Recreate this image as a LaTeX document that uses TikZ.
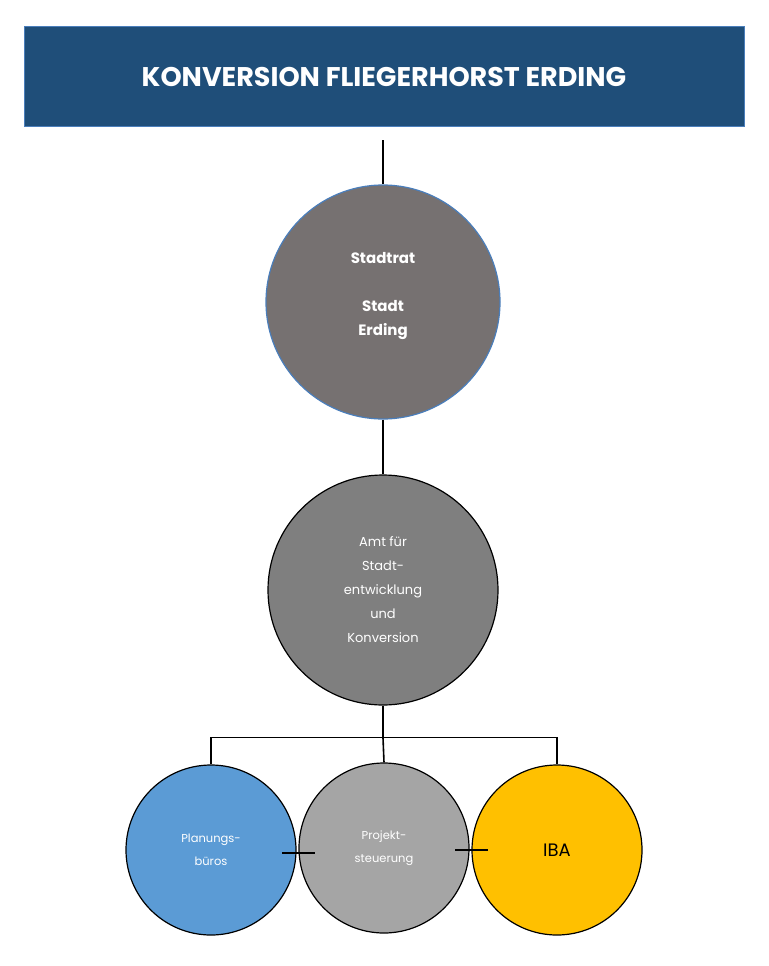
\documentclass[tikz,border=0pt]{standalone}
\usepackage{fontspec}
\setmainfont{Poppins}
\definecolor{titleblue}{HTML}{1F4E79}
\definecolor{rimblue}{HTML}{4A7EBB}
\definecolor{ratgray}{HTML}{767171}
\definecolor{amtgray}{HTML}{7F7F7F}
\definecolor{planblue}{HTML}{5B9BD5}
\definecolor{steugray}{HTML}{A5A5A5}
\definecolor{ibagold}{HTML}{FFC000}
\tikzset{
    link/.style={line width=1.6pt},
    orgcircle/.style={circle, draw=black, line width=1.2pt, text=white, align=center, inner sep=0pt}
}
\begin{document}
\begin{tikzpicture}[x=1pt, y=-1pt]
    \useasboundingbox[fill=white] (0, 0) rectangle (768, 966);

    \node[draw=rimblue, fill=titleblue, line width=1pt, minimum width=720pt, minimum height=99pt,
          text=white, font=\fontsize{27}{30}\selectfont\bfseries] (title) at (384, 76.5) {KONVERSION FLIEGERHORST ERDING};

    \node[orgcircle, draw=rimblue, fill=ratgray, minimum size=234pt, font=\fontsize{15}{18}\selectfont\bfseries] (rat) at (383, 302) {};
    \node[text=white, font=\fontsize{15}{18}\selectfont\bfseries] at (383, 258) {Stadtrat};
    \node[text=white, font=\fontsize{15}{18}\selectfont\bfseries, align=center] at (383, 320) {Stadt\\[6pt]Erding};

    \node[orgcircle, fill=amtgray, minimum size=230pt, font=\fontsize{13}{26}\selectfont] (amt) at (383, 590)
        {Amt für\\[-2pt]Stadt-\\[-2pt]entwicklung\\[-2pt]und\\[-2pt]Konversion};

    \node[orgcircle, fill=planblue, minimum size=170pt, font=\fontsize{11.5}{23}\selectfont] (plan) at (211, 850) {Planungs-\\büros};
    \node[orgcircle, fill=steugray, minimum size=170pt, font=\fontsize{11.5}{23}\selectfont] (steu) at (384, 848) {Projekt-\\steuerung};
    \node[orgcircle, fill=ibagold, text=black, minimum size=170pt, font=\fontsize{18}{20}\selectfont] (iba) at (557, 850) {IBA};

    % connectors
    \coordinate (top) at (383, 140);
    \coordinate (bus) at (383, 738);
    \draw[link] (top) -- (rat.north);
    \draw[link] (rat.south) -- (amt.north);
    \draw[link] (amt.south) -- (bus);
    \draw[link] (plan.north) -- ++(0, -27) -| (iba.north);
    \draw[link] (bus) -- (steu.north);
    \draw[link] (282, 853) -- (315, 853);
    \draw[link] (455, 850) -- (488, 850);
\end{tikzpicture}
\end{document}
